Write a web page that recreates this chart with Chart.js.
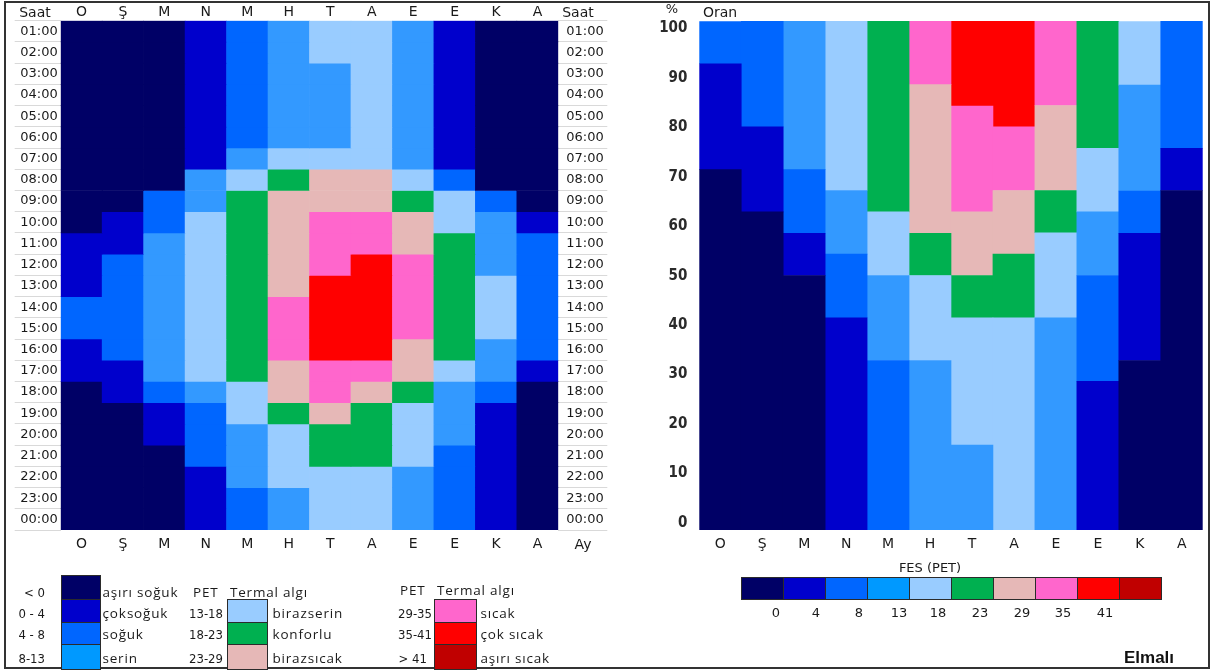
<!DOCTYPE html>
<html>
<head>
<meta charset="utf-8">
<script src="https://cdn.jsdelivr.net/npm/chart.js@4.4.1/dist/chart.umd.min.js"></script>
<style>
html,body{margin:0;padding:0;background:#fff;}
#wrap{position:relative;width:1212px;height:671px;overflow:hidden;background:#fff;color:#1a1a1a;font-family:'DejaVu Sans',sans-serif;}
canvas{position:absolute;}
.t{position:absolute;white-space:nowrap;line-height:1;}
.b{position:absolute;box-sizing:border-box;border:1px solid #2b2b2b;}
#frame{position:absolute;left:4px;top:1px;width:1206px;height:668px;box-sizing:border-box;border:2px solid #333;pointer-events:none;}
</style>
</head>
<body>
<div id="wrap">
  <canvas id="heat" width="620" height="560" style="left:0;top:0;width:620px;height:560px"></canvas>
  <canvas id="ratio" width="592" height="560" style="left:620px;top:0;width:592px;height:560px"></canvas>
  <div id="frame"></div>
</div>
<script>
// ---------- categories ----------
const months = ['O','Ş','M','N','M','H','T','A','E','E','K','A'];
const hours = ['01:00','02:00','03:00','04:00','05:00','06:00','07:00','08:00','09:00','10:00','11:00','12:00',
               '13:00','14:00','15:00','16:00','17:00','18:00','19:00','20:00','21:00','22:00','23:00','00:00'];
const classNames = ['aşırı soğuk','çok soğuk','soğuk','serin','biraz serin','konforlu','biraz sıcak','sıcak','çok sıcak','aşırı sıcak'];
const fesTicks = ['0','4','8','13','18','23','29','35','41'];

// ---------- PET thermal class (0..9) per hour 01:00 .. 00:00, one array per month ----------
const ocak    = [0,0,0,0,0,0,0,0,0,0,1,1,1,2,2,1,1,0,0,0,0,0,0,0];
const subat   = [0,0,0,0,0,0,0,0,0,1,1,2,2,2,2,2,1,1,0,0,0,0,0,0];
const mart    = [0,0,0,0,0,0,0,0,2,2,3,3,3,3,3,3,3,2,1,1,0,0,0,0];
const nisan   = [1,1,1,1,1,1,1,3,3,4,4,4,4,4,4,4,4,3,2,2,2,1,1,1];
const mayis   = [2,2,2,2,2,2,3,4,5,5,5,5,5,5,5,5,5,4,4,3,3,3,2,2];
const haziran = [3,3,3,3,3,3,4,5,6,6,6,6,6,7,7,7,6,6,5,4,4,4,3,3];
const temmuz  = [4,4,3,3,3,3,4,6,6,7,7,7,8,8,8,8,7,7,6,5,5,4,4,4];
const agustos = [4,4,4,4,4,4,4,6,6,7,7,8,8,8,8,8,7,6,5,5,5,4,4,4];
const eylul   = [3,3,3,3,3,3,3,4,5,6,6,7,7,7,7,6,6,5,4,4,4,3,3,3];
const ekim    = [1,1,1,1,1,1,1,2,4,4,5,5,5,5,5,5,4,3,3,3,2,2,2,2];
const kasim   = [0,0,0,0,0,0,0,0,2,3,3,3,4,4,4,3,3,2,1,1,1,1,1,1];
const aralik  = [0,0,0,0,0,0,0,0,0,1,2,2,2,2,2,2,1,0,0,0,0,0,0,0];
const monthClasses = [ocak,subat,mart,nisan,mayis,haziran,temmuz,agustos,eylul,ekim,kasim,aralik];

// ---------- share of hours (%) per class, per month (right chart) ----------
const pctAsiriSoguk = [70.8,62.5,50.0,0,0,0,0,0,0,0,33.3,66.7];
const pctCokSoguk   = [20.8,16.7,8.3,41.7,0,0,0,0,0,29.2,25.0,8.3];
const pctSoguk      = [8.3,20.8,12.5,12.5,33.3,0,0,0,0,20.8,8.3,25.0];
const pctSerin      = [0,0,29.2,12.5,16.7,33.3,16.7,0,41.7,12.5,20.8,0];
const pctBirazSerin = [0,0,0,33.3,12.5,16.7,25.0,41.7,16.7,12.5,12.5,0];
const pctKonforlu   = [0,0,0,0,37.5,8.3,8.3,12.5,8.3,25.0,0,0];
const pctBirazSicak = [0,0,0,0,0,29.2,12.5,12.5,16.7,0,0,0];
const pctSicak      = [0,0,0,0,0,12.5,20.8,12.5,16.7,0,0,0];
const pctCokSicak   = [0,0,0,0,0,0,16.7,20.8,0,0,0,0];
const pctAsiriSicak = [0,0,0,0,0,0,0,0,0,0,0,0];
const pctSeries = [pctAsiriSoguk,pctCokSoguk,pctSoguk,pctSerin,pctBirazSerin,pctKonforlu,pctBirazSicak,pctSicak,pctCokSicak,pctAsiriSicak];

// ---------- styles ----------
const chartColors  = ['#000066','#0000CC','#0066FF','#3399FF','#99CCFF','#00B050','#E6B8B7','#FF66CC','#FF0000','#C00000'];
const legendColors = ['#000066','#0000CC','#0066FF','#0099FF','#99CCFF','#00B050','#E6B8B7','#FF66CC','#FF0000','#C00000'];
const FAM = "'DejaVu Sans', sans-serif";
const NARROW = "'DejaVu Sans Condensed', 'Liberation Sans Narrow', sans-serif";
const monthFont = {family: FAM, size: 14};
const hourFont = {family: FAM, size: 13};
const txtColor = '#1a1a1a';

// ---------- left: hourly heat map as stacked one-hour bars ----------
const heatDatasets = hours.map((h, i) => ({
  label: h,
  data: months.map(() => 1),
  backgroundColor: monthClasses.map(col => chartColors[col[i]]),
  borderWidth: 0,
  barPercentage: 1,
  categoryPercentage: 1,
  xAxisID: 'x',
  yAxisID: 'y'
}));

const noGrid = {display: false, drawTicks: false};
new Chart(document.getElementById('heat'), {
  type: 'bar',
  data: {labels: months, datasets: heatDatasets},
  options: {
    responsive: false, animation: false, devicePixelRatio: 1,
    layout: {padding: 0},
    plugins: {legend: {display: false}, tooltip: {enabled: false}},
    scales: {
      x: {type: 'category', position: 'bottom', stacked: true, offset: true,
          grid: noGrid, border: {display: false},
          ticks: {font: monthFont, color: txtColor, padding: 5.5, maxRotation: 0, autoSkip: false},
          afterFit(s) { s.height = 30; }},
      xTop: {type: 'category', axis: 'x', labels: months, position: 'top', offset: true,
          grid: noGrid, border: {display: false},
          ticks: {font: monthFont, color: txtColor, padding: 0, maxRotation: 0, autoSkip: false},
          afterFit(s) { s.height = 20.7; }},
      y: {type: 'linear', stacked: true, min: 0, max: 24, reverse: true, display: false},
      yL: {type: 'category', axis: 'y', labels: hours, position: 'left', offset: true,
          grid: {display: true, drawOnChartArea: false, drawTicks: true, tickLength: 46, color: '#d9d9d9', lineWidth: 1, offset: true},
          border: {display: false},
          ticks: {font: hourFont, color: txtColor, padding: -43, autoSkip: false},
          afterFit(s) { s.width = 60.7; }},
      yR: {type: 'category', axis: 'y', labels: hours, position: 'right', offset: true,
          grid: {display: true, drawOnChartArea: false, drawTicks: true, tickLength: 49, color: '#d9d9d9', lineWidth: 1, offset: true},
          border: {display: false},
          ticks: {font: hourFont, color: txtColor, padding: -41, autoSkip: false},
          afterFit(s) { s.width = 61.7; }}
    }
  }
});

// ---------- right: stacked share of hours per class ----------
const ratioDatasets = pctSeries.map((arr, k) => ({
  label: classNames[k],
  data: arr.map(v => v || null),
  backgroundColor: chartColors[k],
  borderWidth: 0,
  barPercentage: 1,
  categoryPercentage: 1,
  xAxisID: 'x',
  yAxisID: 'y'
}));

new Chart(document.getElementById('ratio'), {
  type: 'bar',
  data: {labels: months, datasets: ratioDatasets},
  options: {
    responsive: false, animation: false, devicePixelRatio: 1,
    layout: {padding: {top: 20.7, right: 9.3, left: 0, bottom: 0}},
    plugins: {legend: {display: false}, tooltip: {enabled: false}},
    scales: {
      x: {type: 'category', position: 'bottom', stacked: true, offset: true,
          grid: noGrid, border: {display: false},
          ticks: {font: monthFont, color: txtColor, padding: 5.5, maxRotation: 0, autoSkip: false},
          afterFit(s) { s.height = 30; }},
      y: {type: 'linear', stacked: true, min: 0, max: 100, display: false},
      yTicks: {type: 'linear', axis: 'y', position: 'left', min: -1.41, max: 101.47,
          grid: noGrid, border: {display: false},
          ticks: {stepSize: 10, includeBounds: false, font: {family: NARROW, size: 15, weight: 'bold'}, color: '#2a2a2a', padding: 12},
          afterFit(s) { s.width = 79.3; }}
    }
  }
});

// ---------- text & legends (real text) ----------
const wrap = document.getElementById('wrap');
function addText(txt, x, y, o) {
  o = o || {};
  const d = document.createElement('div');
  d.className = 't';
  d.textContent = txt;
  d.style.left = x + 'px';
  d.style.top = y + 'px';
  const tx = o.align === 'l' ? '0' : (o.align === 'r' ? '-100%' : '-50%');
  d.style.transform = 'translate(' + tx + ',-50%)';
  if (o.font) d.style.font = o.font;
  if (o.ls) d.style.letterSpacing = o.ls;
  if (o.ws) d.style.wordSpacing = o.ws;
  if (o.color) d.style.color = o.color;
  wrap.appendChild(d);
}
function addBox(x, y, w, h, c) {
  const d = document.createElement('div');
  d.className = 'b';
  d.style.left = x + 'px'; d.style.top = y + 'px';
  d.style.width = w + 'px'; d.style.height = h + 'px';
  d.style.background = c;
  wrap.appendChild(d);
}

const hdrFont = "14px 'DejaVu Sans', sans-serif";
addText('Saat', 35, 12, {font: hdrFont});
addText('Saat', 578, 12, {font: hdrFont});
addText('Ay', 583, 544, {font: hdrFont});
addText('%', 672, 8, {font: "13px 'DejaVu Sans', sans-serif"});
addText('Oran', 703, 12, {font: hdrFont, align: 'l'});

// left legend
const lgWord = "13.5px 'Open Sans', sans-serif";
const lgNum = "13px 'DejaVu Sans Condensed', 'Liberation Sans Narrow', sans-serif";
const rowsY = [591.5, 612.5, 633.5, 657.5];
const boxY = [575, 599, 621.5, 643.5];
const boxH = [25, 23.5, 23, 26];
addText('< 0', 45, rowsY[0], {font: lgNum, align: 'r'});
addText('0 - 4', 45, rowsY[1], {font: lgNum, align: 'r'});
addText('4 - 8', 45, rowsY[2], {font: lgNum, align: 'r'});
addText('8-13', 45, rowsY[3], {font: lgNum, align: 'r'});
for (let k = 0; k < 4; k++) addBox(60.5, boxY[k], 40.5, boxH[k], legendColors[k]);
addText(classNames[0], 102.5, rowsY[0], {font: lgWord, align: 'l', ls: '0.8px'});
addText(classNames[1], 102.5, rowsY[1], {font: lgWord, align: 'l', ls: '0.8px', ws: '-4px'});
addText(classNames[2], 102.5, rowsY[2], {font: lgWord, align: 'l', ls: '0.8px'});
addText(classNames[3], 102.5, rowsY[3], {font: lgWord, align: 'l', ls: '0.8px'});

addText('PET', 193, rowsY[0], {font: lgWord, align: 'l', ls: '0.8px'});
addText('Termal algı', 230, rowsY[0], {font: lgWord, align: 'l', ls: '0.8px'});
addText('13-18', 223, rowsY[1], {font: lgNum, align: 'r'});
addText('18-23', 223, rowsY[2], {font: lgNum, align: 'r'});
addText('23-29', 223, rowsY[3], {font: lgNum, align: 'r'});
for (let k = 4; k < 7; k++) addBox(227, boxY[k - 3], 41, boxH[k - 3], legendColors[k]);
addText(classNames[4], 272.5, rowsY[1], {font: lgWord, align: 'l', ls: '0.8px', ws: '-4px'});
addText(classNames[5], 272.5, rowsY[2], {font: lgWord, align: 'l', ls: '0.8px'});
addText(classNames[6], 272.5, rowsY[3], {font: lgWord, align: 'l', ls: '0.8px', ws: '-4px'});

addText('PET', 400, 589.5, {font: lgWord, align: 'l', ls: '0.8px'});
addText('Termal algı', 437, 589.5, {font: lgWord, align: 'l', ls: '0.8px'});
addText('29-35', 432, rowsY[1], {font: lgNum, align: 'r'});
addText('35-41', 432, rowsY[2], {font: lgNum, align: 'r'});
addText('> 41', 427, rowsY[3], {font: lgNum, align: 'r'});
for (let k = 7; k < 10; k++) addBox(433.5, boxY[k - 6], 43, boxH[k - 6], legendColors[k]);
addText(classNames[7], 480.5, rowsY[1], {font: lgWord, align: 'l', ls: '0.8px'});
addText(classNames[8], 480.5, rowsY[2], {font: lgWord, align: 'l', ls: '0.8px'});
addText(classNames[9], 480.5, rowsY[3], {font: lgWord, align: 'l', ls: '0.8px'});

// colour bar legend (FES / PET)
addText('FES (PET)', 930, 566.5, {font: "13px 'DejaVu Sans', sans-serif"});
const cbX = 740.5, cbW = 42.1;
for (let k = 0; k < 10; k++) addBox(cbX + k * cbW, 576.5, cbW + 1, 23.5, legendColors[k]);
const cbLabelX = [776, 816, 859, 899, 938, 980, 1022, 1063, 1105];
fesTicks.forEach((t, k) => addText(t, cbLabelX[k], 612, {font: "13px 'DejaVu Sans', sans-serif"}));

addText('Elmalı', 1149, 658, {font: "bold 17px 'Liberation Sans', sans-serif", color: '#111'});
</script>
</body>
</html>
